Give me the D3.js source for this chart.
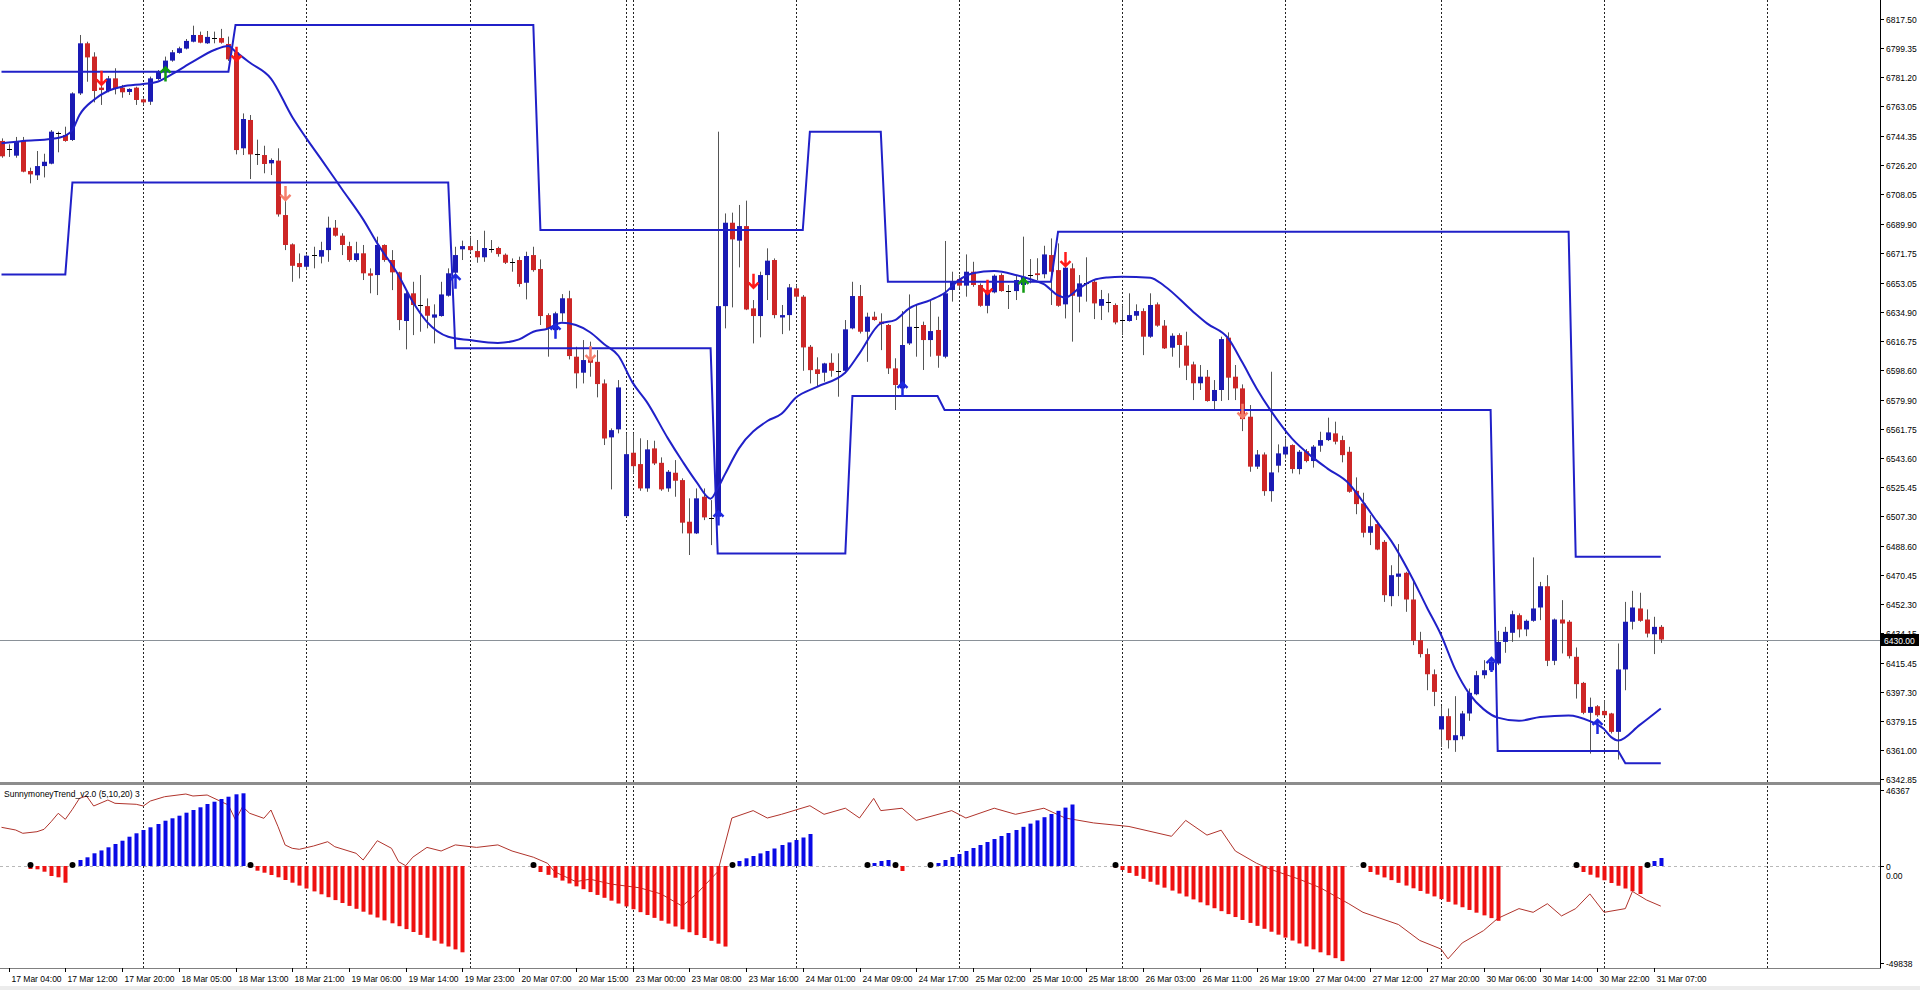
<!DOCTYPE html>
<html><head><meta charset="utf-8">
<script src="https://cdn.jsdelivr.net/npm/d3@7"></script>
<style>html,body{margin:0;padding:0;background:#fff;overflow:hidden}svg{display:block}</style>
</head><body><svg id="c" width="1920" height="990"></svg>
<script>
// ---------------- DATA ----------------
const opens=[6741.5,6736.0,6732.3,6741.5,6722.7,6720.0,6725.8,6727.3,6746.0,6745.2,6742.1,6771.2,6802.5,6794.2,6774.8,6772.7,6780.6,6774.8,6772.1,6774.8,
6767.5,6766.0,6780.2,6784.8,6791.7,6796.5,6799.2,6803.5,6807.7,6802.5,6806.2,6805.8,6802.1,6796.9,6736.9,6754.6,6733.1,6732.7,6727.5,6729.2,
6695.2,6676.9,6665.2,6662.9,6670.2,6669.2,6673.3,6687.3,6682.3,6675.8,6667.1,6671.3,6658.8,6657.7,6676.5,6667.1,6659.4,6629.0,6646.3,6639.0,
6638.3,6631.1,6632.1,6644.8,6659.2,6673.8,6675.8,6672.7,6668.8,6674.4,6674.6,6670.4,6666.2,6667.1,6652.9,6670.2,6661.5,6632.7,6623.3,6633.8,
6643.2,6606.7,6596.7,6605.7,6603.5,6590.0,6556.3,6561.3,6507.1,6546.7,6539.6,6524.4,6549.4,6540.4,6524.4,6534.2,6529.6,6503.6,6496.3,6519.2,
6506.5,6506.7,6638.3,6690.4,6679.2,6688.3,6636.9,6632.1,6657.7,6667.1,6631.2,6632.7,6649.4,6644.2,6612.9,6598.8,6596.7,6602.9,6598.1,6597.9,
6624.4,6644.6,6622.3,6631.7,6628.6,6626.5,6599.4,6586.9,6615.0,6625.6,6626.5,6617.1,6623.4,6606.7,6648.4,6655.2,6651.1,6659.8,6651.5,6638.5,
6646.9,6657.7,6648.4,6647.7,6651.5,6658.2,6658.8,6658.2,6670.2,6660.8,6639.4,6661.9,6644.2,6653.3,6653.5,6638.5,6641.3,6639.0,6629.6,6629.0,
6632.3,6635.2,6619.2,6639.4,6626.1,6612.3,6620.2,6613.6,6601.9,6590.1,6594.2,6579.0,6585.9,6618.6,6594.2,6586.9,6569.2,6538.0,6545.6,6522.7,
6538.6,6545.6,6551.5,6536.5,6547.7,6541.5,6551.1,6554.6,6558.8,6554.6,6547.3,6522.9,6515.0,6496.7,6502.1,6491.0,6457.1,6469.2,6471.7,6455.0,
6429.6,6420.9,6408.3,6373.8,6382.1,6367.1,6369.6,6383.8,6395.8,6407.7,6410.8,6415.0,6428.5,6434.2,6445.2,6436.3,6441.7,6450.0,6463.3,6416.7,
6442.5,6441.1,6419.2,6402.9,6384.2,6388.3,6385.4,6383.8,6372.3,6411.3,6441.1,6449.4,6442.5,6433.3,6437.9];
const highs=[6743.1,6739.4,6744.0,6744.0,6724.8,6735.2,6733.5,6748.3,6747.3,6750.4,6771.9,6807.7,6803.5,6796.9,6779.6,6782.1,6786.9,6776.5,6774.4,6775.4,
6768.1,6781.7,6785.8,6794.2,6798.3,6800.4,6805.2,6813.5,6809.8,6810.2,6809.8,6811.5,6806.7,6798.3,6758.7,6757.7,6742.3,6738.5,6730.6,6736.9,
6709.8,6677.5,6671.2,6670.6,6675.4,6678.5,6694.2,6692.1,6683.8,6678.5,6678.5,6676.5,6661.9,6681.7,6676.9,6673.3,6659.8,6647.3,6653.5,6657.7,
6643.1,6639.4,6653.5,6661.9,6675.4,6679.2,6681.7,6679.6,6685.4,6679.6,6675.4,6671.2,6668.1,6669.2,6672.3,6675.4,6667.5,6633.8,6634.8,6645.8,
6647.9,6612.9,6617.1,6616.1,6610.8,6592.5,6561.9,6592.1,6558.8,6558.8,6555.7,6554.6,6554.2,6543.8,6535.9,6542.1,6530.7,6518.2,6524.4,6524.4,
6517.1,6747.3,6696.2,6696.7,6701.5,6704.2,6642.1,6659.8,6674.4,6668.1,6639.0,6652.1,6651.5,6645.2,6614.0,6606.3,6602.9,6608.8,6608.8,6629.6,
6653.5,6651.5,6634.2,6634.8,6633.8,6627.1,6605.7,6635.2,6645.6,6639.0,6628.6,6641.5,6631.7,6679.0,6659.8,6657.7,6670.6,6666.0,6652.5,6653.1,
6658.1,6658.8,6651.5,6657.7,6681.7,6667.7,6668.2,6676.0,6680.6,6677.5,6665.6,6665.0,6657.7,6668.8,6654.6,6648.4,6646.3,6640.0,6639.0,6646.3,
6639.4,6636.9,6646.3,6640.6,6629.6,6621.3,6621.3,6622.3,6603.6,6601.5,6598.4,6592.1,6619.2,6621.9,6601.5,6589.4,6576.5,6548.4,6546.9,6597.3,
6551.9,6555.7,6551.9,6548.4,6549.0,6551.5,6559.8,6568.6,6566.1,6557.3,6550.4,6531.3,6521.7,6507.7,6504.2,6492.1,6476.4,6489.6,6472.3,6467.1,
6434.8,6424.4,6411.3,6388.4,6386.9,6394.6,6385.4,6399.4,6410.4,6417.1,6419.2,6435.4,6437.9,6448.0,6446.3,6442.5,6481.3,6466.0,6470.2,6443.1,
6454.6,6442.1,6425.0,6403.5,6393.7,6389.0,6392.1,6384.2,6427.5,6453.5,6460.4,6459.2,6448.8,6444.2,6439.0];
const lows=[6731.0,6731.5,6731.0,6721.9,6715.0,6717.1,6718.7,6726.9,6734.4,6741.0,6741.5,6770.2,6778.5,6765.6,6764.0,6771.9,6770.6,6768.5,6770.2,6764.0,
6764.0,6764.0,6779.6,6783.7,6791.0,6796.0,6798.7,6803.1,6802.5,6802.1,6802.5,6802.3,6791.5,6733.1,6732.7,6717.7,6726.5,6721.3,6720.2,6694.2,
6673.3,6653.5,6655.6,6660.8,6661.9,6665.0,6666.0,6681.7,6670.2,6666.0,6666.0,6654.6,6646.3,6645.2,6666.0,6648.3,6623.3,6611.3,6620.2,6622.3,
6624.4,6615.0,6631.7,6644.2,6657.7,6667.1,6672.3,6665.4,6666.0,6671.7,6669.2,6664.6,6659.8,6650.4,6642.5,6659.8,6626.5,6606.7,6618.2,6628.6,
6605.0,6586.9,6590.0,6594.2,6581.3,6551.5,6523.8,6558.8,6506.7,6533.8,6522.9,6522.3,6539.0,6522.9,6522.3,6519.2,6496.3,6482.8,6495.9,6504.6,
6489.0,6504.6,6624.4,6637.5,6662.5,6635.8,6615.0,6618.8,6642.1,6630.7,6620.8,6623.0,6642.1,6597.9,6590.0,6588.4,6591.1,6594.2,6581.7,6596.3,
6623.8,6621.2,6603.5,6629.2,6610.8,6595.9,6573.4,6582.7,6614.0,6606.7,6598.4,6606.7,6599.8,6605.7,6641.1,6649.4,6644.2,6650.4,6637.9,6633.8,
6646.3,6647.3,6636.5,6642.1,6649.0,6652.5,6654.6,6655.7,6639.0,6637.9,6630.6,6616.1,6634.4,6641.1,6630.2,6629.6,6634.4,6626.9,6620.2,6628.6,
6629.6,6607.7,6618.5,6625.4,6611.5,6606.7,6599.8,6592.1,6579.6,6585.9,6578.6,6573.3,6579.0,6579.6,6579.6,6560.2,6534.8,6536.5,6519.8,6516.1,
6534.4,6543.2,6533.8,6533.2,6540.7,6537.4,6547.3,6554.0,6551.9,6540.7,6521.7,6508.3,6493.8,6489.0,6485.8,6453.5,6450.8,6457.1,6447.3,6426.5,
6418.8,6398.3,6388.4,6362.9,6361.9,6359.8,6367.5,6379.2,6395.2,6405.6,6410.4,6414.0,6421.7,6428.5,6431.3,6432.1,6441.1,6442.1,6413.4,6414.0,
6421.3,6418.1,6393.1,6383.3,6358.7,6381.7,6382.1,6371.3,6355.0,6398.3,6436.3,6441.1,6431.3,6420.9,6427.9];
const closes=[6731.9,6736.3,6741.0,6722.3,6720.6,6725.8,6728.5,6747.3,6746.2,6741.5,6771.2,6802.5,6793.7,6772.7,6773.3,6780.6,6774.4,6771.9,6774.0,6767.1,
6765.6,6780.6,6784.8,6791.7,6796.9,6799.4,6804.0,6807.7,6802.9,6806.5,6806.0,6802.9,6792.5,6735.8,6755.2,6733.1,6733.3,6727.1,6729.6,6695.6,
6676.5,6663.5,6662.7,6669.8,6670.4,6673.3,6687.3,6682.3,6676.5,6667.1,6671.3,6658.8,6657.3,6676.5,6667.1,6659.4,6629.6,6646.3,6639.0,6638.8,
6632.3,6633.1,6645.6,6658.8,6670.2,6675.8,6673.3,6668.8,6674.6,6674.2,6670.8,6665.4,6666.0,6652.1,6669.6,6660.8,6632.1,6624.4,6633.8,6643.2,
6607.1,6596.3,6604.6,6602.9,6589.6,6555.6,6560.8,6587.5,6545.8,6538.3,6524.4,6548.8,6540.0,6523.8,6534.8,6529.2,6503.0,6496.3,6518.2,6506.3,
6506.1,6638.3,6690.4,6680.0,6688.3,6636.2,6632.1,6657.7,6666.7,6632.7,6632.7,6650.0,6644.2,6612.5,6598.3,6595.9,6602.5,6597.9,6597.9,6623.8,
6644.6,6622.3,6631.7,6629.6,6627.1,6599.4,6589.0,6614.0,6625.4,6625.2,6617.1,6622.7,6607.3,6646.3,6653.5,6651.1,6659.8,6651.5,6638.5,6648.4,
6657.3,6647.7,6648.0,6654.6,6656.7,6658.0,6657.7,6670.6,6659.8,6638.5,6662.3,6644.8,6652.5,6653.0,6640.0,6642.7,6640.9,6628.1,6629.4,6632.7,
6635.2,6619.2,6639.0,6626.1,6611.9,6619.8,6614.0,6601.1,6590.1,6594.2,6579.0,6585.9,6617.7,6593.6,6586.9,6567.7,6538.0,6545.6,6522.7,6534.4,
6546.3,6550.5,6536.5,6547.3,6541.5,6550.5,6554.6,6559.4,6553.6,6545.2,6522.3,6514.6,6496.7,6500.8,6486.2,6457.7,6470.2,6471.2,6455.0,6429.2,
6420.9,6408.3,6397.3,6382.1,6367.1,6370.2,6383.8,6396.7,6407.7,6410.8,6416.1,6428.5,6434.8,6445.8,6436.3,6441.7,6449.4,6463.3,6416.7,6442.5,
6440.0,6419.6,6402.1,6384.2,6387.9,6382.7,6382.7,6372.3,6411.3,6441.1,6450.0,6441.7,6433.7,6437.9,6430.0];

// moving average readings [bar, price]
const maLine=[[0,6740.0],[3,6741.5],[7,6742.7],[9,6744.8],[10,6748.3],[11,6757.7],[13,6767.1],[15,6772.7],[17,6775.4],[20,6777.1],[22,6778.5],[24,6783.1],[27,6791.0],[30,6798.3],[32,6800.8],[33,6797.3],[35,6790.5],[38,6780.5],[41,6756.5],[43,6743.1],[45,6730.6],[48,6711.5],[51,6692.5],[53,6677.5],[56,6657.5],[58,6641.0],[60,6628.5],[63,6619.2],[66,6617.1],[70,6615.3],[73,6617.5],[75,6622.3],[77,6624.2],[79,6627.9],[81,6626.5],[83,6622.0],[85,6614.5],[87,6607.3],[89,6590.5],[91,6578.5],[94,6555.5],[96,6541.5],[98,6528.5],[100,6518.0],[101,6524.5],[102,6533.0],[104,6549.4],[108,6566.5],[110,6571.0],[112,6581.0],[115,6587.9],[119,6596.8],[121,6608.8],[124,6627.5],[126,6629.5],[128,6636.9],[131,6642.1],[133,6646.5],[135,6654.5],[137,6658.8],[140,6660.2],[143,6657.8],[145,6655.2],[147,6652.0],[149,6645.0],[150,6643.6],[152,6649.5],[154,6654.5],[156,6656.2],[158,6656.7],[162,6656.1],[164,6650.9],[168,6635.0],[170,6627.5],[173,6618.1],[175,6603.0],[177,6586.9],[179,6573.0],[182,6555.5],[185,6543.5],[187,6536.8],[190,6527.5],[192,6516.0],[194,6503.5],[196,6491.5],[199,6468.0],[201,6450.2],[203,6433.0],[205,6411.5],[207,6396.0],[209,6386.5],[211,6381.2],[214,6379.2],[217,6381.6],[221,6382.6],[224,6379.0],[226,6374.0],[227,6369.0],[228,6366.9],[231,6376.5],[234,6386.9]];

// trailing levels [fromBar, toBar, price]
const upperLevels=[[0,32,6784.8],[33,75,6814.0],[76,113,6685.8],[114,124,6747.3],[125,148,6653.5],[149,221,6684.8],[222,234,6481.7]];
const lowerLevels=[[0,9,6658.1],[10,63,6715.6],[64,100,6611.9],[101,119,6483.8],[120,132,6582.1],[133,210,6573.4],[211,228,6360.4],[229,234,6352.7]];

// signal arrows [bar, price, kind]
const signals=[[14,6781,'sell'],[23,6783,'buyStrong'],[33,6796,'sell'],[40,6709,'sellWeak'],[64,6653.5,'buy'],[78,6622.3,'buy'],[83,6609,'sellWeak'],[101,6505.6,'buy'],[106,6654.2,'sell'],[127,6586,'buy'],[139,6650.4,'sell'],[144,6651,'buyStrong'],[150,6667.7,'sell'],[175,6573,'sellWeak'],[210,6414,'buy'],[225,6375.4,'buy']];

const priceTicks=[6817.50,6799.35,6781.20,6763.05,6744.35,6726.20,6708.05,6689.90,6671.75,6653.05,6634.90,6616.75,6598.60,6579.90,6561.75,6543.60,6525.45,6507.30,6488.60,6470.45,6452.30,6434.15,6415.45,6397.30,6379.15,6361.00,6342.85];
const currentPrice=6430.00;
const timeLabels=["17 Mar 04:00","17 Mar 12:00","17 Mar 20:00","18 Mar 05:00","18 Mar 13:00","18 Mar 21:00","19 Mar 06:00","19 Mar 14:00","19 Mar 23:00","20 Mar 07:00","20 Mar 15:00","23 Mar 00:00","23 Mar 08:00","23 Mar 16:00","24 Mar 01:00","24 Mar 09:00","24 Mar 17:00","25 Mar 02:00","25 Mar 10:00","25 Mar 18:00","26 Mar 03:00","26 Mar 11:00","26 Mar 19:00","27 Mar 04:00","27 Mar 12:00","27 Mar 20:00","30 Mar 06:00","30 Mar 14:00","30 Mar 22:00","31 Mar 07:00"];
const timeLabelBars=[1,9,17,25,33,41,49,57,65,73,81,89,97,105,113,121,129,137,145,153,161,169,177,185,193,201,209,217,225,233];
const daySeparators=[20,43,66,88,89,112,135,158,181,203,226,249];

// indicator: SunnymoneyTrend_v2.0
const indName="SunnymoneyTrend_v2.0  (5,10,20)  3";
const indMax=46367, indMin=-49838;
const histStart=[4,10,35,75,103,122,126,131,157,192,222,232];
const histVals=[
[-1540,-1700,-2930,-5140,-5800,-8580],
[1000,3660,5300,7750,9500,11400,13420,15430,17870,19950,21960,23600,25620,27630,29100,30690,32520,34160,35810,37820,39220,40870,42270,43740,44350],
[-800,-2410,-3440,-4620,-5810,-7190,-8580,-10070,-11560,-13050,-14540,-16030,-17520,-19010,-20500,-21990,-23480,-24970,-26460,-27950,-29440,-30930,-32420,-33910,-35400,-36890,-38380,-39870,-41360,-42850,-44340],
[-800,-3080,-4550,-6030,-7500,-8970,-10450,-11920,-13390,-14870,-16340,-17810,-19290,-20760,-22230,-23710,-25180,-26650,-28130,-29600,-31070,-32550,-34020,-35490,-36970,-38440,-39910,-41380],
[1000,3050,4700,6100,7690,9150,10680,12810,14400,15860,17390,19520],
[600,1830,3050,3660],
[-800,-2570],
[600,1830,3660,5490,7320,9150,10980,12810,14640,16470,18300,20130,21960,23900,25860,27820,29770,31720,33670,35620,37520],
[-800,-2060,-3570,-5080,-6590,-8100,-9610,-11120,-12630,-14140,-15650,-17160,-18670,-20180,-21690,-23200,-24710,-26220,-27730,-29240,-30750,-32260,-33770,-35280,-36790,-38300,-39810,-41320,-42830,-44340,-45850,-47360,-48870],
[-800,-3080,-4470,-5870,-7260,-8650,-10050,-11440,-12830,-14230,-15620,-17010,-18410,-19800,-21190,-22590,-23980,-25370,-26770,-28160],
[-800,-3080,-4490,-5910,-7320,-8730,-10150,-11560,-12980,-14390],
[600,3050,4880]];
const sigLine=[[0,23600],[2,21960],[3,19950],[5,20920],[6,22390],[7,27020],[8,32150],[9,28490],[10,34590],[11,41300],[12,42700],[13,36600],[15,40260],[16,38250],[19,37640],[20,36600],[21,39650],[23,42270],[26,43920],[27,42700],[29,43310],[31,39220],[32,37210],[33,28060],[34,36170],[35,32150],[37,29100],[38,34160],[39,23970],[40,12810],[41,10800],[42,10190],[44,12200],[46,14820],[47,11770],[50,7750],[51,3660],[53,15430],[55,10800],[56,2620],[57,200],[58,5370],[60,11350],[62,9150],[64,12870],[67,11350],[70,12870],[72,9150],[75,5370],[77,1650],[78,-2980],[81,-8020],[83,-6780],[86,-9300],[90,-11200],[93,-14340],[96,-20610],[98,-14340],[101,-2980],[102,12870],[103,29280],[106,33790],[108,29280],[110,31540],[114,36780],[116,31540],[119,35260],[121,29280],[123,41240],[124,33790],[127,35260],[129,27820],[134,33790],[136,29280],[140,35260],[143,31540],[147,35260],[150,29280],[154,26290],[159,24100],[165,18120],[167,27820],[170,18850],[172,21840],[174,9150],[177,1650],[179,-1750],[183,-6780],[186,-11200],[190,-19380],[192,-23800],[197,-30070],[200,-38240],[203,-42660],[204,-47700],[206,-39530],[209,-33200],[211,-26930],[214,-21900],[216,-23800],[218,-19380],[220,-25650],[222,-21900],[224,-14340],[226,-23800],[229,-21900],[230,-13060],[232,-17480],[234,-20610]];

// ---------------- RENDER ----------------
const svg=d3.select('#c');
const W=1920,H=990,axisX=1880,mainBottom=782,indTop=786,indBottom=968;
const FONT="'Liberation Sans', Arial, sans-serif";
const BULL='#1a1ab4',BEAR='#cd2626',WICK='#555',LINEC='#2020c8';

const x=d3.scaleLinear().domain([0,234]).range([1.5,1.5+7.091*234]);
const y=d3.scaleLinear().domain([6342.85,6817.50]).range([779,19.3]);
const yi=d3.scaleLinear().domain([indMin,0,indMax]).range([963,866,790]);

svg.append('rect').attr('width',W).attr('height',H).attr('fill','#fff');
const defs=svg.append('defs');
defs.append('clipPath').attr('id','cm').append('rect').attr('x',0).attr('y',0).attr('width',axisX).attr('height',mainBottom);
defs.append('clipPath').attr('id','ci').append('rect').attr('x',0).attr('y',indTop).attr('width',axisX).attr('height',indBottom-indTop);

// day separators (both panels)
const sepG=svg.append('g');
daySeparators.forEach(b=>{
  const xx=Math.round(x(b))+0.5;
  sepG.append('line').attr('x1',xx).attr('x2',xx).attr('y1',0).attr('y2',mainBottom).attr('stroke','#222').attr('stroke-dasharray','2,2').attr('stroke-width',1);
  sepG.append('line').attr('x1',xx).attr('x2',xx).attr('y1',indTop).attr('y2',indBottom).attr('stroke','#222').attr('stroke-dasharray','2,2').attr('stroke-width',1);
});

// ---- main panel
const gm=svg.append('g').attr('clip-path','url(#cm)');
gm.append('line').attr('x1',0).attr('x2',axisX).attr('y1',Math.round(y(currentPrice))+0.5).attr('y2',Math.round(y(currentPrice))+0.5).attr('stroke','#8a9198').attr('stroke-width',1);

// candles
const idx=d3.range(opens.length);
const cg=gm.append('g');
cg.selectAll('line.w').data(idx).join('line').attr('class','w')
  .attr('x1',i=>Math.round(x(i))+0.5).attr('x2',i=>Math.round(x(i))+0.5)
  .attr('y1',i=>y(highs[i])).attr('y2',i=>y(lows[i])).attr('stroke',WICK).attr('stroke-width',1);
cg.selectAll('rect.b').data(idx.filter(i=>Math.abs(y(opens[i])-y(closes[i]))>=1.3)).join('rect').attr('class','b')
  .attr('x',i=>Math.round(x(i))-2).attr('width',5)
  .attr('y',i=>Math.min(y(opens[i]),y(closes[i]))).attr('height',i=>Math.abs(y(opens[i])-y(closes[i])))
  .attr('fill',i=>closes[i]>=opens[i]?BULL:BEAR);
cg.selectAll('line.d').data(idx.filter(i=>Math.abs(y(opens[i])-y(closes[i]))<1.3)).join('line').attr('class','d')
  .attr('x1',i=>Math.round(x(i))-2).attr('x2',i=>Math.round(x(i))+3)
  .attr('y1',i=>Math.round(y(closes[i]))+0.5).attr('y2',i=>Math.round(y(closes[i]))+0.5).attr('stroke','#000').attr('stroke-width',1);

// trailing level lines
function levelPts(levels){const p=[];levels.forEach(s=>{p.push([s[0],s[2]]);p.push([s[1],s[2]]);});return p;}
const lvl=d3.line().x(d=>x(d[0])).y(d=>y(d[1]));
[upperLevels,lowerLevels].forEach(L=>gm.append('path').attr('d',lvl(levelPts(L))).attr('fill','none').attr('stroke',LINEC).attr('stroke-width',2));
// MA
gm.append('path').attr('d',d3.line().x(d=>x(d[0])).y(d=>y(d[1])).curve(d3.curveMonotoneX)(maLine)).attr('fill','none').attr('stroke',LINEC).attr('stroke-width',2);

// arrows
const sigColor={sell:'#ff1a1a',sellWeak:'#f5806c',buy:'#1e28e0',buyStrong:'#119a11'};
signals.forEach(s=>{
  const cx=Math.round(x(s[0]))+0.5, cy=y(s[1]), up=s[2].startsWith('buy');
  const d=up?`M${cx},${cy+7}L${cx},${cy-7}M${cx-5},${cy-2}L${cx},${cy-7}L${cx+5},${cy-2}`
            :`M${cx},${cy-7}L${cx},${cy+7}M${cx-5},${cy+2}L${cx},${cy+7}L${cx+5},${cy+2}`;
  gm.append('path').attr('d',d).attr('fill','none').attr('stroke',sigColor[s[2]]).attr('stroke-width',2.5).attr('stroke-linejoin','miter');
});

// ---- separator between panels
svg.append('rect').attr('x',0).attr('y',mainBottom).attr('width',axisX).attr('height',3).attr('fill','#8c8c8c');

// ---- indicator panel
const gi=svg.append('g').attr('clip-path','url(#ci)');
gi.append('line').attr('x1',0).attr('x2',axisX).attr('y1',Math.round(yi(0))+0.5).attr('y2',Math.round(yi(0))+0.5).attr('stroke','#b8b8b8').attr('stroke-dasharray','3,3');
gi.append('path').attr('d',d3.line().x(d=>x(d[0])).y(d=>yi(d[1]))(sigLine)).attr('fill','none').attr('stroke','#b0342c').attr('stroke-width',1);
const histData=[];histStart.forEach((s,k)=>histVals[k].forEach((v,j)=>histData.push([s+j,v])));
gi.selectAll('rect.h').data(histData).join('rect').attr('class','h')
  .attr('x',d=>Math.round(x(d[0]))-1.5).attr('width',4)
  .attr('y',d=>Math.min(yi(d[1]),yi(0))).attr('height',d=>Math.abs(yi(d[1])-yi(0)))
  .attr('fill',d=>d[1]>=0?'#0a0ae6':'#ee1111');
gi.selectAll('circle').data(histStart).join('circle').attr('cx',b=>Math.round(x(b))+0.5).attr('cy',yi(0)-1).attr('r',3).attr('fill','#000');
svg.append('text').attr('x',4).attr('y',797).attr('font-family',FONT).attr('font-size',8.5).attr('fill','#000').text(indName);

// ---- axes
svg.append('line').attr('x1',axisX+0.5).attr('x2',axisX+0.5).attr('y1',0).attr('y2',indBottom).attr('stroke','#000');
svg.append('line').attr('x1',0).attr('x2',axisX+1).attr('y1',indBottom+0.5).attr('y2',indBottom+0.5).attr('stroke','#808080');
const pa=svg.append('g');
priceTicks.forEach(p=>{
  const yy=Math.round(y(p))+0.5;
  pa.append('line').attr('x1',axisX).attr('x2',axisX+4).attr('y1',yy).attr('y2',yy).attr('stroke','#000');
  pa.append('text').attr('x',axisX+6).attr('y',yy+3).attr('font-family',FONT).attr('font-size',8.5).attr('fill','#000').text(p.toFixed(2));
});
const cy0=Math.round(y(currentPrice));
pa.append('rect').attr('x',axisX+1).attr('y',cy0-6).attr('width',38).attr('height',12).attr('fill','#000');
pa.append('text').attr('x',axisX+4).attr('y',cy0+3.5).attr('font-family',FONT).attr('font-size',8.5).attr('fill','#fff').text(currentPrice.toFixed(2));
[[indMax,String(indMax),0],[0,'0',0],[0,'0.00',9],[indMin,String(indMin),0]].forEach(t=>{
  const yy=Math.round(yi(t[0]))+0.5+t[2];
  if(t[2]===0) pa.append('line').attr('x1',axisX).attr('x2',axisX+4).attr('y1',yy).attr('y2',yy).attr('stroke','#000');
  pa.append('text').attr('x',axisX+6).attr('y',yy+3).attr('font-family',FONT).attr('font-size',8.5).attr('fill','#000').text(t[1]);
});
timeLabels.forEach((t,k)=>{
  const xx=Math.round(x(timeLabelBars[k]))+0.5;
  pa.append('line').attr('x1',xx).attr('x2',xx).attr('y1',indBottom).attr('y2',indBottom+4).attr('stroke','#000');
  pa.append('text').attr('x',xx+2).attr('y',indBottom+14).attr('font-family',FONT).attr('font-size',8.5).attr('fill','#000').text(t);
});
svg.append('rect').attr('x',0).attr('y',986).attr('width',W).attr('height',4).attr('fill','#ececec');
</script></body></html>
